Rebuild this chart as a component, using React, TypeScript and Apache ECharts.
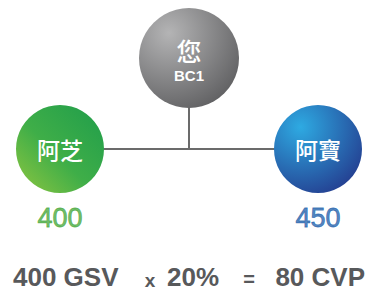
import React, { useEffect, useRef } from "react";
import * as echarts from "echarts";

// Nodes of the diagram
const nodeNames = ["您", "阿芝", "阿寶"];
const nodeSubLabels = ["BC1", "", ""];
const nodeVolumes: (number | null)[] = [null, 400, 450];
// layout slots (column / tier) mapped by the hidden axes
const nodeColumns = [1, 0, 2];
const nodeTiers = [0, 1, 1];

// Formula at the bottom
const formulaGSV = 400;
const formulaRate = 20;
const formulaCVP = 80;

const nodeColors = [
  {
    type: "radial", x: 0.3, y: 0.25, r: 0.85,
    colorStops: [
      { offset: 0, color: "#b4b4b5" },
      { offset: 1, color: "#5f5f61" },
    ],
  },
  {
    type: "linear", x: 0, y: 1, x2: 1, y2: 0,
    colorStops: [
      { offset: 0, color: "#8fc640" },
      { offset: 0.45, color: "#3fae48" },
      { offset: 1, color: "#1f9d4b" },
    ],
  },
  {
    type: "radial", x: 0.3, y: 0.25, r: 0.85,
    colorStops: [
      { offset: 0, color: "#2eaae2" },
      { offset: 1, color: "#243e90" },
    ],
  },
];
const valueColors = ["#666", "#4cab42", "#2866ae"];
const nodeSizes = [100, 88, 88];

export default function App() {
  const ref = useRef<HTMLDivElement>(null);
  useEffect(() => {
    document.body.style.margin = "0";
    const chart = echarts.init(ref.current!, null, { renderer: "svg" });

    const graphNodes: any[] = nodeNames.map((n, i) => ({
      name: n,
      value: [nodeColumns[i], nodeTiers[i]],
      symbolSize: nodeSizes[i],
      itemStyle: { color: nodeColors[i] },
      label: {
        show: true,
        position: "inside",
        offset: i === 0 ? [0, 2] : [0, 0],
        formatter: nodeSubLabels[i] ? `{a|${n}}\n{b|${nodeSubLabels[i]}}` : `{a|${n}}`,
        rich: {
          a: {
            fontSize: i === 0 ? 25 : 23,
            color: "#fff",
            fontFamily: "Noto Sans CJK TC",
            fontWeight: 500,
            lineHeight: 30,
          },
          b: {
            fontSize: 15,
            fontWeight: "bold",
            color: "#fff",
            fontFamily: "Liberation Sans",
            lineHeight: 20,
          },
        },
      },
    }));
    graphNodes.push({
      name: "junction",
      value: [nodeColumns[0], nodeTiers[1]],
      symbolSize: 0,
      label: { show: false },
    });

    const links = [
      { source: nodeNames[0], target: "junction" },
      { source: nodeNames[1], target: "junction" },
      { source: "junction", target: nodeNames[2] },
    ];

    const valueData = nodeNames
      .map((n, i) => ({ i, n }))
      .filter((d) => nodeVolumes[d.i] != null)
      .map((d) => ({
        value: [nodeColumns[d.i], nodeTiers[d.i], nodeVolumes[d.i]],
        label: {
          color: valueColors[d.i],
          textBorderColor: valueColors[d.i],
          textBorderWidth: 0.8,
        },
      }));

    const big = {
      fontFamily: "Liberation Sans",
      fontWeight: "bold",
      fontSize: 26,
      fill: "#58595b",
      verticalAlign: "middle",
      textVerticalAlign: "middle",
    };
    const baseY = 277;

    chart.setOption({
      animation: false,
      grid: { left: 60, right: 48, top: 58, bottom: 142 },
      xAxis: { type: "value", min: 0, max: 2, show: false },
      yAxis: { type: "value", min: 0, max: 1, inverse: true, show: false },
      series: [
        {
          type: "graph",
          coordinateSystem: "cartesian2d",
          layout: "none",
          data: graphNodes,
          links,
          symbol: "circle",
          lineStyle: { color: "#6b6b6b", width: 2, opacity: 1, curveness: 0 },
          emphasis: { disabled: true },
          z: 2,
        },
        {
          type: "scatter",
          data: valueData,
          symbolSize: 0,
          label: {
            show: true,
            position: "inside",
            offset: [0, 69],
            fontSize: 27,
            fontFamily: "Liberation Sans",
            formatter: (p: any) => String(p.value[2]),
          },
          emphasis: { disabled: true },
          z: 3,
        },
      ],
      graphic: [
        {
          type: "text", x: 13, y: baseY,
          style: { ...big, text: `${formulaGSV} GSV`, align: "left", textAlign: "left" },
        },
        {
          type: "text", x: 150, y: baseY + 3,
          style: { ...big, fontSize: 19, text: "x", align: "center", textAlign: "center" },
        },
        {
          type: "text", x: 167, y: baseY,
          style: { ...big, text: `${formulaRate}%`, align: "left", textAlign: "left" },
        },
        {
          type: "text", x: 249, y: baseY + 2,
          style: { ...big, fontSize: 20, text: "=", align: "center", textAlign: "center" },
        },
        {
          type: "text", x: 365, y: baseY,
          style: { ...big, text: `${formulaCVP} CVP`, align: "right", textAlign: "right" },
        },
      ],
    });
    return () => chart.dispose();
  }, []);
  return <div ref={ref} style={{ width: 366, height: 291 }} />;
}
